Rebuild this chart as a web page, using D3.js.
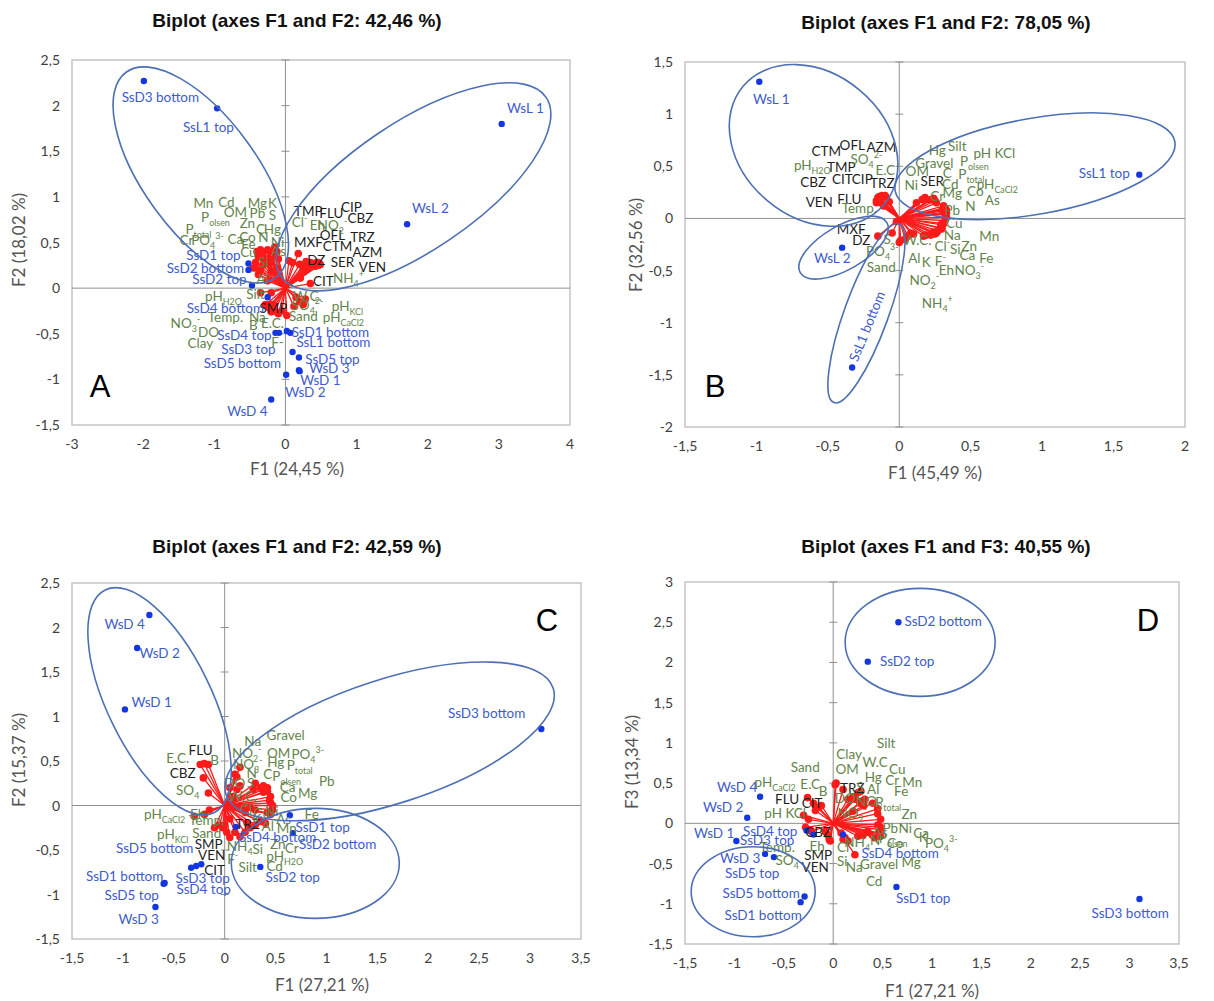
<!DOCTYPE html>
<html><head><meta charset="utf-8">
<script src="https://cdn.jsdelivr.net/npm/d3@7"></script>
<style>body{margin:0;background:#fff}svg{display:block}</style>
</head><body>
<svg id="chart" width="1214" height="1001"></svg>
<script>
// ---------- Panel A : sites (observations) ----------
const obsA = [
  ["SsD3 bottom",-1.99,2.27],["SsL1 top",-0.96,1.97],["WsL 1",3.04,1.80],["WsL 2",1.71,0.70],
  ["SsD1 top",-0.52,0.27],["SsD2 bottom",-0.52,0.20],["SsD2 top",-0.47,0.03],["SsD4 bottom",-0.25,-0.10],
  ["SsD4 top",-0.14,-0.49],["SsD3 top",-0.09,-0.49],["SsD1 bottom",0.02,-0.47],["SsL1 bottom",0.07,-0.49],
  ["SsD5 bottom",0.10,-0.70],["SsD5 top",0.19,-0.76],["WsD 3",0.19,-0.90],["WsD 1",0.20,-0.91],
  ["WsD 2",0.01,-0.95],["WsD 4",-0.20,-1.22]
];
// Panel A : variables (p = pharmaceutical, e = environmental)
const varA = [
  ["TMP",0.25,0.22,"p"],["FLU",0.31,0.24,"p"],["CIP",0.35,0.28,"p"],["CBZ",0.42,0.24,"p"],["MXF",0.18,0.38,"p"],
  ["OFL",0.37,0.26,"p"],["TRZ",0.44,0.28,"p"],["CTM",0.39,0.27,"p"],["AZM",0.47,0.25,"p"],["DZ",0.29,0.29,"p"],
  ["SER",0.46,0.28,"p"],["VEN",0.49,0.26,"p"],["CIT",0.21,0.11,"p"],["SMP",-0.21,-0.18,"p"],
  ["Mn",-0.40,0.40,"e"],["Cd",-0.35,0.42,"e"],["Mg",-0.25,0.42,"e"],["K",-0.15,0.45,"e"],["OM",-0.32,0.38,"e"],
  ["Pb",-0.22,0.40,"e"],["S",-0.12,0.40,"e"],["P_{olsen}",-0.38,0.34,"e"],["Zn",-0.30,0.33,"e"],["C",-0.22,0.33,"e"],
  ["Hg",-0.15,0.35,"e"],["Cl^-",0.05,0.30,"e"],["Eh",0.10,0.28,"e"],["NO_2^-",0.20,0.26,"e"],["P_{total}",-0.42,0.28,"e"],
  ["Cr",-0.45,0.22,"e"],["PO_4^{3-}",-0.40,0.22,"e"],["Ca",-0.32,0.25,"e"],["Co",-0.28,0.27,"e"],["N",-0.20,0.28,"e"],
  ["Fe",-0.35,0.20,"e"],["Ni",-0.10,0.32,"e"],["Cu",-0.38,0.15,"e"],["As",-0.12,0.22,"e"],["Si",-0.20,0.18,"e"],
  ["Al",-0.25,0.08,"e"],["pH_{H2O}",-0.35,-0.05,"e"],["Silt",-0.20,-0.05,"e"],["W.C.",0.15,-0.10,"e"],
  ["SO_4^{2-}",0.20,-0.15,"e"],["pH_{KCl}",0.28,-0.12,"e"],["Sand",0.12,-0.20,"e"],["pH_{CaCl2}",0.25,-0.18,"e"],
  ["NO_3^-",-0.28,-0.18,"e"],["Temp.",-0.22,-0.22,"e"],["Na",-0.15,-0.25,"e"],["B",-0.10,-0.28,"e"],
  ["E.C.",-0.05,-0.25,"e"],["DO",-0.18,-0.18,"e"],["Clay",-0.20,-0.26,"e"],["F-",0.02,-0.30,"e"],["NH_4^+",0.35,0.05,"e"]
];

// ---------- Panel B ----------
const obsB = [["WsL 1",-0.98,1.31],["SsL1 top",1.68,0.42],["WsL 2",-0.40,-0.28],["SsL1 bottom",-0.33,-1.43]];
const varB = [
  ["CTM",-0.15,0.20,"p"],["OFL",-0.14,0.21,"p"],["AZM",-0.12,0.22,"p"],["TMP",-0.15,0.18,"p"],["CBZ",-0.16,0.17,"p"],
  ["CIT",-0.14,0.17,"p"],["CIP",-0.13,0.19,"p"],["TRZ",-0.10,0.22,"p"],["VEN",-0.16,0.15,"p"],["FLU",-0.13,0.15,"p"],
  ["SER",0.18,0.20,"p"],["MXF",-0.02,-0.03,"p"],["DZ",-0.15,-0.17,"p"],
  ["pH_{H2O}",-0.14,0.16,"e"],["SO_4^{2-}",-0.09,0.20,"e"],["E.C",-0.07,0.16,"e"],["Temp.",-0.11,0.12,"e"],
  ["Hg",0.18,0.19,"e"],["Silt",0.24,0.19,"e"],["pH KCl",0.32,0.10,"e"],["Gravel",0.22,0.18,"e"],["OM",0.16,0.18,"e"],
  ["C",0.25,0.17,"e"],["P_{olsen}",0.31,0.12,"e"],["Ni",0.12,0.15,"e"],["Cd",0.26,0.15,"e"],["P_{total}",0.32,0.09,"e"],
  ["pH_{CaCl2}",0.33,0.08,"e"],["Cr",0.24,0.19,"e"],["Mg",0.30,0.08,"e"],["Co",0.32,0.06,"e"],["As",0.33,0.05,"e"],
  ["Pb",0.32,0.04,"e"],["N",0.33,0.01,"e"],["Cu",0.32,-0.02,"e"],["Na",0.29,-0.06,"e"],["Mn",0.31,-0.05,"e"],
  ["S",0.01,-0.21,"e"],["W.C.",0.06,-0.17,"e"],["Cl^-",0.24,-0.13,"e"],["Si",0.26,-0.14,"e"],["Zn",0.29,-0.09,"e"],
  ["PO_4^{3-}",-0.05,-0.14,"e"],["Al",0.10,-0.15,"e"],["K",0.17,-0.17,"e"],["F^-",0.19,-0.16,"e"],["Ca",0.27,-0.12,"e"],
  ["Fe",0.30,-0.10,"e"],["Sand",0.00,-0.23,"e"],["Eh",0.22,-0.16,"e"],["NO_3^-",0.25,-0.15,"e"],["NO_2^-",0.04,-0.20,"e"],
  ["NH_4^+",0.08,-0.14,"e"]
];

// ---------- Panel C ----------
const obsC = [
  ["WsD 4",-0.74,2.14],["WsD 2",-0.86,1.77],["WsD 1",-0.98,1.08],["SsD3 bottom",3.11,0.86],["SsD1 top",0.64,-0.11],
  ["SsD4 bottom",0.11,-0.24],["SsD2 bottom",0.67,-0.31],["SsD2 top",0.35,-0.69],["SsD5 bottom",-0.33,-0.70],
  ["SsD3 top",-0.28,-0.68],["SsD4 top",-0.23,-0.66],["SsD1 bottom",-0.59,-0.87],["SsD5 top",-0.60,-0.88],["WsD 3",-0.68,-1.14]
];
const varC = [
  ["FLU",-0.20,0.47,"p"],["CBZ",-0.21,0.31,"p"],["TRZ",0.05,-0.15,"p"],["SMP",-0.02,-0.25,"p"],["VEN",0.02,-0.30,"p"],["CIT",0.00,-0.22,"p"],
  ["E.C.",-0.24,0.46,"e"],["B",-0.16,0.46,"e"],["SO_4",-0.16,0.14,"e"],["Na",0.10,0.35,"e"],["Gravel",0.30,0.25,"e"],
  ["NO_2^-",0.15,0.43,"e"],["OM",0.38,0.22,"e"],["PO_4^{3-}",0.42,0.20,"e"],["NO_3^-",0.12,0.32,"e"],["Hg",0.35,0.20,"e"],
  ["P_{total}",0.42,0.16,"e"],["N",0.15,0.22,"e"],["C",0.28,0.18,"e"],["P_{olsen}",0.38,0.15,"e"],["Pb",0.45,0.10,"e"],
  ["DO",0.05,0.20,"e"],["S",0.12,0.18,"e"],["Ca",0.44,0.06,"e"],["Mg",0.45,0.03,"e"],["Co",0.47,0.00,"e"],
  ["W.C.",0.08,0.10,"e"],["pH_{CaCl2}",-0.30,-0.12,"e"],["Eh",-0.15,-0.05,"e"],["Temp.",-0.20,-0.10,"e"],
  ["Fe",0.47,-0.05,"e"],["As",0.42,-0.08,"e"],["Al",0.40,-0.20,"e"],["Mn",0.45,-0.10,"e"],["pH_{KCl}",-0.10,-0.25,"e"],
  ["Sand",-0.05,-0.22,"e"],["NH_4",0.15,-0.35,"e"],["Si",0.20,-0.30,"e"],["Zn",0.30,-0.22,"e"],["Cr",0.35,-0.18,"e"],
  ["pH_{H2O}",0.25,-0.25,"e"],["F^-",0.05,-0.36,"e"],["Silt",0.10,-0.30,"e"],["Cd",0.22,-0.20,"e"],
  ["Cu",0.30,-0.05,"e"],["Ni",0.25,-0.02,"e"],["K",0.20,-0.08,"e"],["Cl^-",0.10,-0.02,"e"]
];

// ---------- Panel D (F1 x F3) ----------
const obsD = [
  ["SsD2 bottom",0.66,2.50],["SsD2 top",0.35,2.01],["WsD 4",-0.74,0.33],["WsD 2",-0.87,0.07],["WsD 1",-0.98,-0.22],
  ["SsD4 top",-0.27,-0.09],["SsD3 top",-0.20,-0.14],["WsD 3",-0.69,-0.38],["SsD5 top",-0.60,-0.42],
  ["SsD5 bottom",-0.29,-0.91],["SsD1 bottom",-0.33,-0.98],["SsD4 bottom",0.10,-0.14],["SsD1 top",0.64,-0.79],
  ["SsD3 bottom",3.10,-0.94]
];
const varD = [
  ["TRZ",0.10,0.42,"p"],["FLU",-0.18,0.16,"p"],["CIT",-0.15,0.20,"p"],["CBZ",-0.08,-0.10,"p"],["SMP",-0.04,-0.20,"p"],["VEN",-0.03,-0.22,"p"],
  ["Silt",0.28,0.40,"e"],["Clay",0.03,0.50,"e"],["Sand",-0.26,0.32,"e"],["OM",0.02,0.48,"e"],["W.C",0.25,0.38,"e"],
  ["Cu",0.32,0.30,"e"],["Hg",0.20,0.33,"e"],["Cr",0.30,0.28,"e"],["Mn",0.40,0.25,"e"],["pH_{CaCl2}",-0.30,0.10,"e"],
  ["E.C",-0.20,0.25,"e"],["B",-0.12,0.22,"e"],["S",0.22,0.30,"e"],["Al",0.27,0.25,"e"],["Fe",0.45,0.18,"e"],
  ["DO",0.15,0.30,"e"],["NO_3",0.31,0.22,"e"],["P_{total}",0.45,0.12,"e"],["pH KCl",-0.25,0.05,"e"],["NO_2^-",0.20,0.15,"e"],
  ["Zn",0.48,0.05,"e"],["Pb",0.45,-0.02,"e"],["Ni",0.48,-0.05,"e"],["Ca",0.48,-0.08,"e"],["P_{olsen}",0.46,-0.12,"e"],
  ["K",0.47,-0.14,"e"],["PO_4^{3-}",0.48,-0.16,"e"],["Temp.",-0.28,-0.05,"e"],["SO_4",-0.22,-0.10,"e"],["Eh",-0.05,-0.15,"e"],
  ["Cl",0.08,-0.12,"e"],["NH_4",0.12,-0.18,"e"],["N",0.30,-0.15,"e"],["Co",0.40,-0.15,"e"],["Si",0.10,-0.20,"e"],
  ["Na",0.15,-0.22,"e"],["Gravel",0.25,-0.16,"e"],["Mg",0.42,-0.18,"e"],["Cd",0.22,-0.39,"e"],["As",0.35,-0.10,"e"]
];

// ---------- Titles and axis ticks ----------
const titles = ["Biplot (axes F1 and F2: 42,46 %)","Biplot (axes F1 and F2: 78,05 %)","Biplot (axes F1 and F2: 42,59 %)","Biplot (axes F1 and F3: 40,55 %)"];
const xTitles = ["F1 (24,45 %)","F1 (45,49 %)","F1 (27,21 %)","F1 (27,21 %)"];
const yTitles = ["F2 (18,02 %)","F2 (32,56 %)","F2 (15,37 %)","F3 (13,34 %)"];
const panelLetters = ["A","B","C","D"];
const xTicksA = [-3,-2,-1,0,1,2,3,4];
const yTicksA = [-1.5,-1,-0.5,0,0.5,1,1.5,2,2.5];
const xTicksB = [-1.5,-1,-0.5,0,0.5,1,1.5,2];
const yTicksB = [-2,-1.5,-1,-0.5,0,0.5,1,1.5];
const xTicksC = [-1.5,-1,-0.5,0,0.5,1,1.5,2,2.5,3,3.5];
const yTicksC = [-1.5,-1,-0.5,0,0.5,1,1.5,2,2.5];
const xTicksD = [-1.5,-1,-0.5,0,0.5,1,1.5,2,2.5,3,3.5];
const yTicksD = [-1.5,-1,-0.5,0,0.5,1,1.5,2,2.5,3];

// ---------- Layout: label placement (px from the plot origin) ----------
const labA = {
  "SsD3 bottom":[-125,-191],"SsL1 top":[-77,-161],"WsL 1":[240,-180],"WsL 2":[145,-80],"SsD1 top":[-72,-33],
  "SsD2 bottom":[-80,-20],"SsD2 top":[-66,-9],"SsD4 bottom":[-60,20],"SsD4 top":[-41,47],"SsD3 top":[-37,61],
  "SsD1 bottom":[45,44],"SsL1 bottom":[48,54],"SsD5 top":[47,71],"WsD 3":[44,80],"WsD 1":[35,92],"WsD 2":[20,104],
  "WsD 4":[-38,123],"SsD5 bottom":[-43,75],
  "TMP":[23,-77],"FLU":[46,-75],"CIP":[66,-81],"CBZ":[75,-70],"MXF":[23,-46],"OFL":[47,-53],"TRZ":[77,-51],"CTM":[52,-42],
  "AZM":[82,-36],"DZ":[31,-28],"SER":[57,-26],"VEN":[87,-21],"CIT":[38,-7],"SMP":[-12,20],
  "Mn":[-82,-85],"Cd":[-59,-86],"Mg":[-28,-85],"K":[-13,-85],"OM":[-50,-76],"Pb":[-28,-75],"S":[-13,-73],
  "P_{olsen}":[-70,-71],"Zn":[-38,-65],"C":[-25,-59],"Hg":[-13,-59],"Cl^-":[14,-66],"Eh":[32,-63],"NO_2^-":[47,-63],
  "P_{total}":[-87,-59],"Cr":[-99,-48],"PO_4^{3-}":[-78,-48],"Ca":[-50,-49],"Co":[-38,-51],"N":[-22,-51],"Fe":[-37,-44],
  "Ni":[-8,-46],"Cu":[-37,-36],"As":[-7,-37],"Si":[-22,-26],"Al":[-23,-9],"pH_{H2O}":[-62,8],"Silt":[-30,6],
  "W.C.":[22,8],"SO_4^{2-}":[22,17],"pH_{KCl}":[62,18],"Sand":[18,28],"pH_{CaCl2}":[58,29],"NO_3^-":[-100,35],
  "Temp.":[-60,29],"Na":[-28,29],"B":[-32,37],"E.C.":[-13,35],"DO":[-77,44],"Clay":[-85,55],"F-":[-8,54],"NH_4^+":[63,-10]
};
const labB = {
  "WsL 1":[-128,-119],"SsL1 top":[205,-45],"WsL 2":[-67,40],"SsL1 bottom":[-32,108],
  "CTM":[-73,-67],"OFL":[-47,-73],"AZM":[-18,-71],"TMP":[-58,-51],"CBZ":[-86,-36],"CIT":[-57,-39],"CIP":[-37,-39],
  "TRZ":[-17,-35],"VEN":[-80,-16],"FLU":[-50,-19],"SER":[33,-37],"MXF":[-48,11],"DZ":[-38,22],
  "pH_{H2O}":[-87,-53],"SO_4^{2-}":[-33,-59],"E.C":[-14,-48],"Temp.":[-40,-10],"Hg":[38,-68],"Silt":[58,-72],
  "pH KCl":[95,-65],"Gravel":[35,-55],"OM":[18,-47],"C":[48,-45],"P_{olsen}":[75,-57],"Ni":[12,-33],"Cd":[51,-34],
  "P_{total}":[72,-44],"pH_{CaCl2}":[98,-34],"Cr":[38,-22],"Mg":[53,-25],"Co":[76,-27],"As":[93,-18],"Pb":[53,-8],
  "N":[71,-12],"Cu":[55,5],"Na":[53,17],"Mn":[90,18],"S":[-12,21],"W.C.":[18,22],"Cl^-":[43,28],"Si":[56,31],
  "Zn":[70,28],"PO_4^{3-}":[-17,33],"Al":[15,40],"K":[27,44],"F^-":[41,43],"Ca":[68,37],"Fe":[87,40],"Sand":[-18,49],
  "Eh":[47,52],"NO_3^-":[70,52],"NO_2^-":[25,62],"NH_4^+":[38,85]
};
const labC = {
  "WsD 4":[-100,-181],"WsD 2":[-65,-152],"WsD 1":[-73,-103],"SsD3 bottom":[262,-92],"SsD1 top":[98,22],
  "SsD4 bottom":[53,32],"SsD2 bottom":[113,39],"SsD2 top":[68,72],"SsD5 bottom":[-70,43],"SsD3 top":[-22,73],
  "SsD4 top":[-21,84],"SsD1 bottom":[-100,71],"SsD5 top":[-93,90],"WsD 3":[-86,114],
  "FLU":[-24,-55],"CBZ":[-42,-32],"TRZ":[23,19],"SMP":[-16,39],"VEN":[-13,50],"CIT":[-10,65],
  "E.C.":[-47,-47],"B":[-10,-45],"SO_4":[-37,-15],"Na":[28,-64],"Gravel":[61,-70],"NO_2^-":[22,-52],"OM":[54,-52],
  "PO_4^{3-}":[83,-51],"NO_3^-":[23,-41],"Hg":[51,-43],"P_{total}":[75,-40],"N":[27,-32],"C":[43,-31],"P_{olsen}":[62,-29],
  "Pb":[102,-24],"DO":[10,-22],"S":[26,-22],"Ca":[63,-18],"Mg":[83,-12],"Co":[64,-8],"W.C.":[18,-9],
  "pH_{CaCl2}":[-60,9],"Eh":[-27,9],"Temp.":[-18,15],"Fe":[87,9],"As":[59,14],"Al":[43,21],"Mn":[62,23],
  "pH_{KCl}":[-52,29],"Sand":[-18,28],"NH_4":[15,41],"Si":[33,44],"Zn":[53,39],"Cr":[67,43],"pH_{H2O}":[60,51],
  "F^-":[8,54],"Silt":[23,62],"Cd":[50,61],"Cu":[37,8],"Ni":[47,6],"K":[32,14],"Cl^-":[23,4]
};
const labD = {
  "SsD2 bottom":[110,-202],"SsD2 top":[74,-162],"WsD 4":[-96,-36],"WsD 2":[-110,-16],"WsD 1":[-119,10],
  "SsD4 top":[-63,8],"SsD3 top":[-66,17],"WsD 3":[-93,35],"SsD5 top":[-81,50],"SsD5 bottom":[-72,70],
  "SsD1 bottom":[-70,92],"SsD4 bottom":[67,30],"SsD1 top":[90,75],"SsD3 bottom":[297,90],
  "TRZ":[19,-35],"FLU":[-46,-24],"CIT":[-21,-20],"CBZ":[-15,9],"SMP":[-15,32],"VEN":[-18,44],
  "Silt":[53,-80],"Clay":[16,-69],"Sand":[-28,-56],"OM":[14,-54],"W.C":[42,-61],"Cu":[64,-54],"Hg":[40,-46],
  "Cr":[59,-43],"Mn":[79,-41],"pH_{CaCl2}":[-58,-41],"E.C":[-23,-39],"B":[-10,-32],"S":[27,-36],"Al":[40,-34],
  "Fe":[68,-32],"DO":[12,-25],"NO_3":[36,-22],"P_{total}":[55,-21],"pH KCl":[-48,-10],"NO_2^-":[19,-10],"Zn":[76,-9],
  "Pb":[57,5],"Ni":[72,5],"Ca":[88,10],"P_{olsen}":[60,15],"K":[90,14],"PO_4^{3-}":[108,20],"Temp.":[-56,24],
  "SO_4":[-46,37],"Eh":[-16,23],"Cl":[10,24],"NH_4":[24,19],"N":[42,17],"Co":[62,20],"Si":[9,38],"Na":[21,44],
  "Gravel":[46,41],"Mg":[78,39],"Cd":[41,58],"As":[47,9]
};
// Group outlines: centre (F-axis units), semi-axes (px), rotation (deg)
const ringsA = [[-1.19,1.24,127,57,54],[1.80,1.11,160,64,-34]];
const ringsB = [[-0.60,0.70,92,72,40],[0.95,0.50,142,48,-10],[-0.39,-0.28,50,22,-30],[-0.23,-0.91,95,22,-70]];
const ringsC = [[-0.64,1.17,124,52,64],[1.62,0.72,172,62,-18],[0.89,-0.65,84,55,0]];
const ringsD = [[0.88,2.25,75,54,0],[-0.81,-0.85,62,45,0]];

const panels = [
  {obs:obsA, vars:varA, lab:labA, rings:ringsA, xt:xTicksA, yt:yTicksA, xr:[72,570], yr:[425,60],
   title:[297,27], xT:[297,475], yT:[20,240], letter:[100,397]},
  {obs:obsB, vars:varB, lab:labB, rings:ringsB, xt:xTicksB, yt:yTicksB, xr:[685,1185], yr:[427,62],
   title:[946,29], xT:[935,479], yT:[637,245], letter:[715,397]},
  {obs:obsC, vars:varC, lab:labC, rings:ringsC, xt:xTicksC, yt:yTicksC, xr:[72,581], yr:[939,583],
   title:[297,553], xT:[322,991], yT:[20,760], letter:[547,631]},
  {obs:obsD, vars:varD, lab:labD, rings:ringsD, xt:xTicksD, yt:yTicksD, xr:[685,1179], yr:[944,582],
   title:[946,553], xT:[932,997], yT:[633,762], letter:[1148,631]}
];

const FONT = "Lato, 'Open Sans', sans-serif";
const COL = {obsDot:"#1436e0", obsTxt:"#3d5bcc", env:"#62834a", ph:"#1e1e1e", red:"#ff1a1a", ring:"#4d6fb5"};
const fmt = d => String(d).replace(".", ",");
const svg = d3.select("#chart");

// Text with _sub and ^sup markup
function rich(sel, str, fs) {
  const parts = []; let cur = "", i = 0;
  while (i < str.length) {
    const ch = str[i];
    if ((ch === "_" || ch === "^") && i + 1 < str.length) {
      if (cur) parts.push({t:cur, m:0}); cur = "";
      const m = ch === "_" ? 1 : 2; i++;
      let s = "";
      if (str[i] === "{") { i++; while (i < str.length && str[i] !== "}") s += str[i++]; i++; }
      else s = str[i++];
      parts.push({t:s, m});
    } else { cur += ch; i++; }
  }
  if (cur) parts.push({t:cur, m:0});
  let shift = 0;
  parts.forEach(p => {
    const target = p.m === 1 ? fs * 0.32 : p.m === 2 ? -fs * 0.42 : 0;
    sel.append("tspan").attr("dy", target - shift).attr("font-size", p.m ? fs * 0.66 : fs).text(p.t);
    shift = target;
  });
}

panels.forEach((P, k) => {
  const x = d3.scaleLinear().domain(d3.extent(P.xt)).range(P.xr);
  const y = d3.scaleLinear().domain(d3.extent(P.yt)).range(P.yr);
  const g = svg.append("g");
  const ox = x(0), oy = y(0);

  // frame
  g.append("rect").attr("x", P.xr[0]).attr("y", P.yr[1]).attr("width", P.xr[1]-P.xr[0]).attr("height", P.yr[0]-P.yr[1])
    .attr("fill", "none").attr("stroke", "#c4c4c4").attr("stroke-width", 1.5);
  // zero axes
  g.append("line").attr("x1", P.xr[0]).attr("x2", P.xr[1]).attr("y1", oy).attr("y2", oy).attr("stroke", "#8f8f8f");
  g.append("line").attr("x1", ox).attr("x2", ox).attr("y1", P.yr[1]).attr("y2", P.yr[0]).attr("stroke", "#8f8f8f");
  g.selectAll(".yt").data(P.yt).join("line").attr("x1", ox-4).attr("x2", ox+4)
    .attr("y1", d => y(d)).attr("y2", d => y(d)).attr("stroke", "#8f8f8f");

  // tick labels
  g.selectAll(".xl").data(P.xt).join("text").attr("x", d => x(d)).attr("y", P.yr[0] + 24)
    .attr("text-anchor", "middle").attr("font-family", FONT).attr("font-size", 14).attr("fill", "#404040").text(fmt);
  g.selectAll(".yl").data(P.yt).join("text").attr("x", P.xr[0] - 12).attr("y", d => y(d) + 5)
    .attr("text-anchor", "end").attr("font-family", FONT).attr("font-size", 14).attr("fill", "#404040").text(fmt);

  // titles
  g.append("text").attr("x", P.title[0]).attr("y", P.title[1]).attr("text-anchor", "middle")
    .attr("font-family", "'Liberation Sans', Arial, sans-serif").attr("font-weight", "bold").attr("font-size", 19)
    .attr("fill", "#111").text(titles[k]);
  g.append("text").attr("x", P.xT[0]).attr("y", P.xT[1]).attr("text-anchor", "middle")
    .attr("font-family", FONT).attr("font-size", 17).attr("fill", "#555").text(xTitles[k]);
  g.append("text").attr("transform", `translate(${P.yT[0]},${P.yT[1]}) rotate(-90)`).attr("y", 5)
    .attr("text-anchor", "middle").attr("font-family", FONT).attr("font-size", 17).attr("fill", "#555").text(yTitles[k]);

  // variable vectors
  g.selectAll(".vec").data(P.vars).join("line").attr("x1", ox).attr("y1", oy)
    .attr("x2", d => x(d[1])).attr("y2", d => y(d[2])).attr("stroke", COL.red).attr("stroke-width", 1.3);
  g.selectAll(".vdot").data(P.vars).join("circle").attr("cx", d => x(d[1])).attr("cy", d => y(d[2]))
    .attr("r", 3.8).attr("fill", COL.red);
  // sites
  g.selectAll(".odot").data(P.obs).join("circle").attr("cx", d => x(d[1])).attr("cy", d => y(d[2]))
    .attr("r", 3.2).attr("fill", COL.obsDot);

  // variable labels
  P.vars.forEach(v => {
    const off = P.lab[v[0]]; if (!off) return;
    const t = g.append("text").attr("x", ox + off[0]).attr("y", oy + off[1] + 4.5)
      .attr("text-anchor", "middle").attr("font-family", FONT).attr("font-size", 13.5)
      .attr("fill", v[3] === "p" ? COL.ph : COL.env);
    rich(t, v[0], 13.5);
  });
  // site labels
  P.obs.forEach(o => {
    const off = P.lab[o[0]]; if (!off) return;
    const t = g.append("text").attr("text-anchor", "middle").attr("font-family", FONT).attr("font-size", 13.5)
      .attr("fill", COL.obsTxt).text(o[0]);
    if (k === 1 && o[0] === "SsL1 bottom")
      t.attr("transform", `translate(${ox + off[0]},${oy + off[1]}) rotate(-68)`).attr("y", 4.5);
    else t.attr("x", ox + off[0]).attr("y", oy + off[1] + 4.5);
  });

  // group outlines
  P.rings.forEach(r => {
    g.append("ellipse").attr("cx", 0).attr("cy", 0).attr("rx", r[2]).attr("ry", r[3])
      .attr("transform", `translate(${x(r[0])},${y(r[1])}) rotate(${r[4]})`)
      .attr("fill", "none").attr("stroke", COL.ring).attr("stroke-width", 1.6);
  });

  // panel letter
  g.append("text").attr("x", P.letter[0]).attr("y", P.letter[1]).attr("text-anchor", "middle")
    .attr("font-family", "'Liberation Sans', Arial, sans-serif").attr("font-size", 31).attr("fill", "#000")
    .text(panelLetters[k]);
});
</script>
</body></html>
